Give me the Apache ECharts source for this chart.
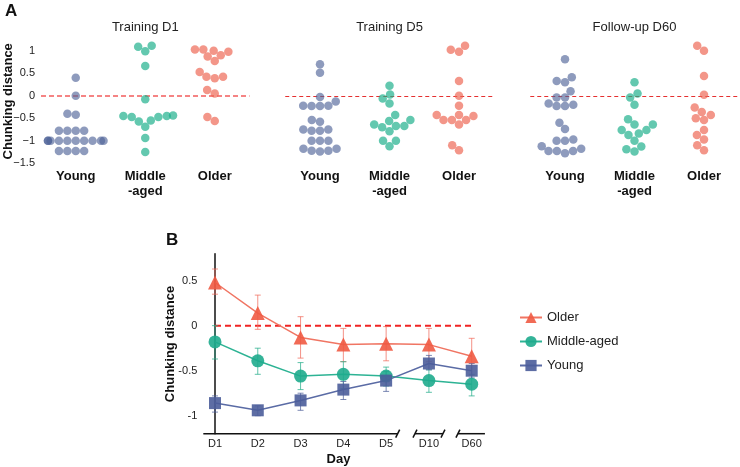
<!DOCTYPE html>
<html><head><meta charset="utf-8">
<script src="https://cdn.jsdelivr.net/npm/echarts@6/dist/echarts.min.js"></script>
<style>html,body{margin:0;padding:0;background:#fff}#c{width:740px;height:467px}</style>
</head><body><div id="c"></div>
<script>
// ---------- DATA ----------
const panelTitles = ['Training D1', 'Training D5', 'Follow-up D60'];
const groupLabels = ['Young', 'Middle\n-aged', 'Older'];

const youngD1 = [0.40, 0.00, -0.40, -0.42, -0.78, -0.78, -0.78, -0.78, -1.00, -1.00, -1.00, -1.00, -1.00, -1.00, -1.00, -1.00, -1.00, -1.00, -1.23, -1.23, -1.23, -1.23];
const middleD1 = [1.11, 1.09, 0.99, 0.66, -0.08, -0.44, -0.45, -0.45, -0.47, -0.47, -0.55, -0.57, -0.69, -0.94, -1.25];
const olderD1 = [1.03, 1.03, 1.00, 0.98, 0.90, 0.87, 0.77, 0.53, 0.42, 0.42, 0.39, 0.13, 0.05, -0.47, -0.56];

const youngD5 = [0.70, 0.51, -0.03, -0.13, -0.22, -0.22, -0.23, -0.23, -0.54, -0.58, -0.75, -0.75, -0.78, -0.78, -1.00, -1.00, -1.00, -1.18, -1.18, -1.22, -1.22, -1.24];
const middleD5 = [0.22, 0.03, -0.06, -0.17, -0.43, -0.54, -0.56, -0.64, -0.67, -0.67, -0.70, -0.79, -1.00, -1.00, -1.12];
const olderD5 = [1.11, 1.02, 0.98, 0.33, 0.00, -0.22, -0.43, -0.43, -0.45, -0.54, -0.54, -0.54, -0.64, -1.10, -1.21];

const youngD60 = [0.81, 0.41, 0.33, 0.30, 0.10, -0.04, -0.04, -0.17, -0.20, -0.23, -0.23, -0.60, -0.74, -0.97, -1.00, -1.00, -1.12, -1.18, -1.23, -1.23, -1.23, -1.28];
const middleD60 = [0.30, 0.05, -0.04, -0.20, -0.52, -0.64, -0.64, -0.76, -0.76, -0.84, -0.87, -1.00, -1.13, -1.19, -1.24];
const olderD60 = [1.11, 1.00, 0.44, 0.02, -0.26, -0.36, -0.43, -0.50, -0.54, -0.76, -0.87, -0.97, -1.10, -1.21];

const panelA_yTicks = [-1.5, -1, -0.5, 0, 0.5, 1];

const days = ['D1', 'D2', 'D3', 'D4', 'D5', 'D10', 'D60'];
const olderMean = [0.48, 0.14, -0.13, -0.21, -0.20, -0.21, -0.34];
const olderLow  = [0.35, -0.04, -0.36, -0.40, -0.39, -0.40, -0.55];
const olderHigh = [0.63, 0.34, 0.10, -0.03, -0.01, -0.03, -0.14];
const middleMean = [-0.18, -0.39, -0.56, -0.54, -0.56, -0.61, -0.65];
const middleLow  = [-0.37, -0.54, -0.71, -0.70, -0.67, -0.74, -0.78];
const middleHigh = [0.00, -0.25, -0.41, -0.40, -0.46, -0.49, -0.54];
const youngMean = [-0.86, -0.94, -0.83, -0.71, -0.61, -0.42, -0.50];
const youngLow  = [-0.96, -1.00, -0.94, -0.82, -0.73, -0.49, -0.58];
const youngHigh = [-0.78, -0.89, -0.75, -0.62, -0.51, -0.33, -0.42];

// ---------- LAYOUT / STYLE ----------
const FONT = '"Liberation Sans", Arial, Helvetica, sans-serif';
const dotColors = ['rgba(79,98,152,0.8)', 'rgba(26,175,138,0.85)', 'rgba(238,101,82,0.85)'];
const A = { top: 39.5, height: 123.75, width: 208.5, lefts: [41, 285.25, 530.25], yMin: -1.5, yMax: 1.25, xMin: -0.5, xMax: 2.5 };
const B = { left: 193.6, width: 299.5, top: 253.7, height: 180, yMin: -1.2, yMax: 0.8, xMin: -0.5, xMax: 6.5 };
const axisBreaks = [[-0.273, 4.27, 0, 1], [4.674, 5.328, 1, 1], [5.678, 6.309, 1, 0]];

const pxPerY = A.height / (A.yMax - A.yMin);
const pxPerX = A.width / (A.xMax - A.xMin);
const DOT = 8.5;

function swarm(vals) {
  const order = vals.map((v, i) => i).sort((a, b) => vals[a] - vals[b]);
  const placed = [], xs = new Array(vals.length);
  const d = DOT - 0.1;
  order.forEach(i => {
    const y = vals[i] * pxPerY;
    const cands = [0];
    placed.forEach(p => {
      const dy = Math.abs(p.y - y);
      if (dy < d) { const dx = Math.sqrt(d * d - dy * dy); cands.push(p.x - dx, p.x + dx); }
    });
    const ok = cands.filter(c => placed.every(p => (p.x - c) ** 2 + (p.y - y) ** 2 >= d * d - 1e-6));
    ok.sort((a, b) => (Math.abs(Math.abs(a) - Math.abs(b)) < 1e-6 ? a - b : Math.abs(a) - Math.abs(b)));
    const x = ok[0];
    placed.push({ x, y });
    xs[i] = x;
  });
  const lim = 0.4 * pxPerX;
  return xs.map(x => Math.max(-lim, Math.min(lim, x)) / pxPerX);
}

const panels = [[youngD1, middleD1, olderD1], [youngD5, middleD5, olderD5], [youngD60, middleD60, olderD60]];

const grid = [], xAxis = [], yAxis = [], series = [];
panels.forEach((groups, p) => {
  grid.push({ left: A.lefts[p], top: A.top, width: A.width, height: A.height });
  xAxis.push({ type: 'value', gridIndex: p, min: A.xMin, max: A.xMax, show: false });
  xAxis.push({ type: 'category', gridIndex: p, data: groupLabels, position: 'bottom',
    axisLine: { show: false }, axisTick: { show: false }, splitLine: { show: false },
    axisLabel: { fontFamily: FONT, fontSize: 13, fontWeight: 'bold', color: '#111', lineHeight: 15, margin: 6 } });
  yAxis.push({ type: 'value', gridIndex: p, min: A.yMin, max: A.yMax, interval: 0.5, show: p === 0,
    axisLine: { show: false }, axisTick: { show: false }, splitLine: { show: false },
    axisLabel: { fontFamily: FONT, fontSize: 11, color: '#222', margin: 6,
      formatter: v => panelA_yTicks.some(t => Math.abs(t - v) < 1e-9) ? String(v).replace('-', '\u2212') : '' } });
  groups.forEach((vals, g) => {
    const offs = swarm(vals);
    const s = {
      type: 'scatter', name: panelTitles[p] + ' ' + g, xAxisIndex: p * 2, yAxisIndex: p,
      symbol: 'circle', symbolSize: DOT, itemStyle: { color: dotColors[g] }, silent: true,
      data: vals.map((v, i) => [g + offs[i], v]), z: 3
    };
    if (g === 0) {
      s.markLine = { silent: true, symbol: 'none', label: { show: false }, z: 2,
        lineStyle: p === 0 ? { color: '#f25c5c', width: 1.6, type: [5, 3] } : { color: '#e53030', width: 1, type: [4, 3] },
        data: [{ yAxis: 0 }] };
    }
    series.push(s);
  });
});

// Panel B
grid.push({ left: B.left, top: B.top, width: B.width, height: B.height });
xAxis.push({ type: 'value', gridIndex: 3, min: B.xMin, max: B.xMax, show: false });
xAxis.push({ type: 'category', gridIndex: 3, data: days, position: 'bottom',
  axisLine: { show: false }, axisTick: { show: false }, splitLine: { show: false },
  axisLabel: { fontFamily: FONT, fontSize: 11, color: '#222', margin: 5 } });
yAxis.push({ type: 'value', gridIndex: 3, min: B.yMin, max: B.yMax, splitNumber: 4, offset: -9.7,
  axisLine: { show: true, lineStyle: { color: '#111', width: 1.5 } }, axisTick: { show: false }, splitLine: { show: false },
  axisLabel: { fontFamily: FONT, fontSize: 11, color: '#222', margin: 6, showMinLabel: false, showMaxLabel: false,
    formatter: v => Math.abs(v * 2 - Math.round(v * 2)) < 1e-6 ? String(v) : '' } });

// x-axis with breaks
series.push({
  type: 'custom', xAxisIndex: 6, yAxisIndex: 3, silent: true, clip: false, z: 1,
  data: axisBreaks,
  renderItem: (params, api) => {
    const p0 = api.coord([api.value(0), B.yMin]);
    const p1 = api.coord([api.value(1), B.yMin]);
    const st = { stroke: '#111', lineWidth: 1.5 };
    const ch = [{ type: 'line', shape: { x1: p0[0], y1: p0[1], x2: p1[0], y2: p1[1] }, style: st }];
    if (api.value(2)) ch.push({ type: 'line', shape: { x1: p0[0] - 2, y1: p0[1] + 4, x2: p0[0] + 2, y2: p0[1] - 4 }, style: st });
    if (api.value(3)) ch.push({ type: 'line', shape: { x1: p1[0] - 2, y1: p1[1] + 4, x2: p1[0] + 2, y2: p1[1] - 4 }, style: st });
    return { type: 'group', children: ch };
  }
});

// zero dashed line
series.push({ type: 'line', name: 'zero', xAxisIndex: 6, yAxisIndex: 3, silent: true, symbol: 'none', z: 1,
  lineStyle: { color: '#f02424', width: 2, type: [6, 4] }, data: [[0, 0], [days.length - 1, 0]] });

function errSeries(low, high, color) {
  return {
    type: 'custom', xAxisIndex: 6, yAxisIndex: 3, silent: true, z: 2,
    data: low.map((l, i) => [i, l, high[i]]),
    renderItem: (params, api) => {
      const lo = api.coord([api.value(0), api.value(1)]);
      const hi = api.coord([api.value(0), api.value(2)]);
      const st = { stroke: color, lineWidth: 1 };
      return { type: 'group', children: [
        { type: 'line', shape: { x1: lo[0], y1: lo[1], x2: hi[0], y2: hi[1] }, style: st },
        { type: 'line', shape: { x1: lo[0] - 3, y1: lo[1], x2: lo[0] + 3, y2: lo[1] }, style: st },
        { type: 'line', shape: { x1: hi[0] - 3, y1: hi[1], x2: hi[0] + 3, y2: hi[1] }, style: st }
      ] };
    }
  };
}
series.push(errSeries(olderLow, olderHigh, 'rgba(240,110,95,0.75)'));
series.push(errSeries(middleLow, middleHigh, 'rgba(40,175,140,0.75)'));
series.push(errSeries(youngLow, youngHigh, 'rgba(80,98,155,0.75)'));

function lineSeries(name, vals, color, lineColor, symbol, size) {
  return { type: 'line', name, xAxisIndex: 6, yAxisIndex: 3, symbol, symbolSize: size, z: 4,
    itemStyle: { color, opacity: 0.9 }, lineStyle: { color: lineColor, width: 1.5 },
    data: vals.map((v, i) => [i, v]) };
}
series.push(lineSeries('Older', olderMean, '#ef5a43', '#f07563', 'triangle', 14));
series.push(lineSeries('Middle-aged', middleMean, '#1eab8d', '#2db394', 'circle', 13));
series.push(lineSeries('Young', youngMean, '#4b5d9a', '#5a6ba5', 'rect', 12));

const graphic = [
  { type: 'text', left: 5, top: 3, style: { text: 'A', font: 'bold 17px ' + FONT, fill: '#111' } },
  { type: 'text', left: 166, top: 232, style: { text: 'B', font: 'bold 17px ' + FONT, fill: '#111' } },
  { type: 'text', x: 8, y: 101.3, rotation: Math.PI / 2, style: { text: 'Chunking distance', font: 'bold 13px ' + FONT, fill: '#111', textAlign: 'center', textVerticalAlign: 'middle' } },
  { type: 'text', x: 170.5, y: 344, rotation: Math.PI / 2, style: { text: 'Chunking distance', font: 'bold 13px ' + FONT, fill: '#111', textAlign: 'center', textVerticalAlign: 'middle' } },
  { type: 'text', x: 338.5, y: 459, style: { text: 'Day', font: 'bold 13px ' + FONT, fill: '#111', textAlign: 'center', textVerticalAlign: 'middle' } }
];
panelTitles.forEach((t, p) => graphic.push({ type: 'text', x: A.lefts[p] + A.width / 2, y: 27,
  style: { text: t, font: '13px ' + FONT, fill: '#222', textAlign: 'center', textVerticalAlign: 'middle' } }));

const chart = echarts.init(document.getElementById('c'), null, { renderer: 'canvas' });
chart.setOption({
  animation: false,
  backgroundColor: '#fff',
  textStyle: { fontFamily: FONT },
  grid, xAxis, yAxis, series, graphic,
  legend: { data: ['Older', 'Middle-aged', 'Young'], orient: 'vertical', left: 514, top: 306,
    itemWidth: 22, itemHeight: 14, itemGap: 11, selectedMode: false,
    textStyle: { fontFamily: FONT, fontSize: 13, color: '#222' } }
});
</script></body></html>
